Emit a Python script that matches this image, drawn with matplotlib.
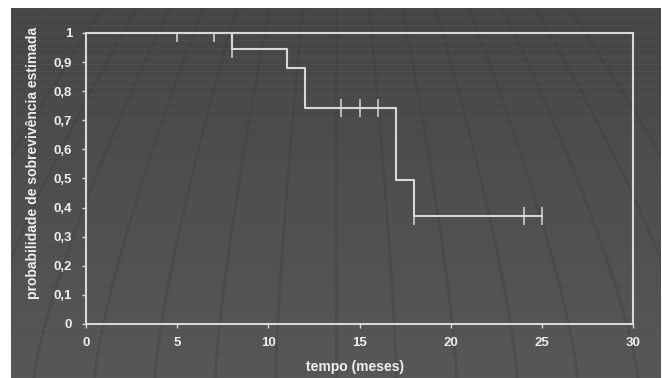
import matplotlib.pyplot as plt
import numpy as np
from matplotlib.colors import LinearSegmentedColormap
from matplotlib.ticker import FuncFormatter

# Curva de Kaplan-Meier
tempos_evento = [0, 8, 11, 12, 17, 18]
sobrevivencia = [1.0, 0.944, 0.88, 0.742, 0.495, 0.371]
tempo_final = 25

# Observações censuradas (marcas verticais)
tempos_censura = [5, 7, 8, 14, 15, 16, 18, 24, 25]
nivel_censura = [1.0, 1.0, 0.944, 0.742, 0.742, 0.742, 0.371, 0.371, 0.371]

xticks = [0, 5, 10, 15, 20, 25, 30]
yticks = [0, 0.1, 0.2, 0.3, 0.4, 0.5, 0.6, 0.7, 0.8, 0.9, 1.0]

cor_linha = '#d8d8d8'
cor_texto = '#eeeeee'
plt.rcParams['font.family'] = ['Liberation Sans', 'DejaVu Sans']

fig = plt.figure(figsize=(6.62, 3.78), dpi=100, facecolor='white')

# fundo escuro com gradiente
bg = fig.add_axes([11 / 662, 0, 650 / 662, 1 - 8 / 378])
cmap_bg = LinearSegmentedColormap.from_list('bg', ['#464646', '#575757'])
grad = np.linspace(0, 1, 200).reshape(-1, 1)
bg.imshow(grad, aspect='auto', cmap=cmap_bg, extent=[0, 1, 0, 1],
          origin='upper', interpolation='bilinear')
# linhas de perspectiva decorativas (curvas suaves)
t = np.linspace(0, 1, 60)
for xb in np.linspace(-0.15, 1.15, 15):
    xs = 0.5 + (xb - 0.5) * (1 - 0.45 * t ** 1.3)
    bg.plot(xs, t, color='#3a3a3a', lw=2.0, alpha=0.3)
for yy in np.arange(0.01, 1, 0.021):
    bg.axhline(yy, color='#5e5e5e', lw=0.7, alpha=0.3)
bg.set_xlim(0, 1)
bg.set_ylim(0, 1)
bg.axis('off')

ax = fig.add_axes([86 / 662, 1 - 324 / 378, 547 / 662, 291 / 378])
ax.patch.set_alpha(0)

x_step = tempos_evento + [tempo_final]
y_step = sobrevivencia + [sobrevivencia[-1]]
ax.step(x_step, y_step, where='post', color=cor_linha, lw=1.5)
ax.plot(tempos_censura, nivel_censura, linestyle='none', marker='|',
        markersize=13, markeredgewidth=1.1, color=cor_linha)

ax.set_xlim(0, 30)
ax.set_ylim(0, 1)
ax.set_xticks(xticks)
ax.set_yticks(yticks)


def fmt(v, pos):
    if abs(v - round(v)) < 1e-9:
        return '%d' % round(v)
    return ('%.1f' % v).replace('.', ',')


ax.yaxis.set_major_formatter(FuncFormatter(fmt))
for s in ax.spines.values():
    s.set_color(cor_linha)
    s.set_linewidth(1.5)
ax.tick_params(colors=cor_linha, labelcolor=cor_texto, length=3, width=1,
               labelsize=9.5)
for lab in ax.get_xticklabels() + ax.get_yticklabels():
    lab.set_fontweight('bold')
ax.tick_params(axis='x', pad=6)
ax.tick_params(axis='y', pad=7)

ax.set_xlabel('tempo (meses)', color=cor_texto, fontsize=10,
              fontweight='bold')
ax.set_ylabel('probabilidade de sobrevivência estimada', color=cor_texto,
              fontsize=10, fontweight='bold')
ax.xaxis.set_label_coords(0.492, -0.125)
ax.yaxis.set_label_coords(-0.085, 0.555)

fig.savefig('out.png', dpi=100, facecolor='white')
